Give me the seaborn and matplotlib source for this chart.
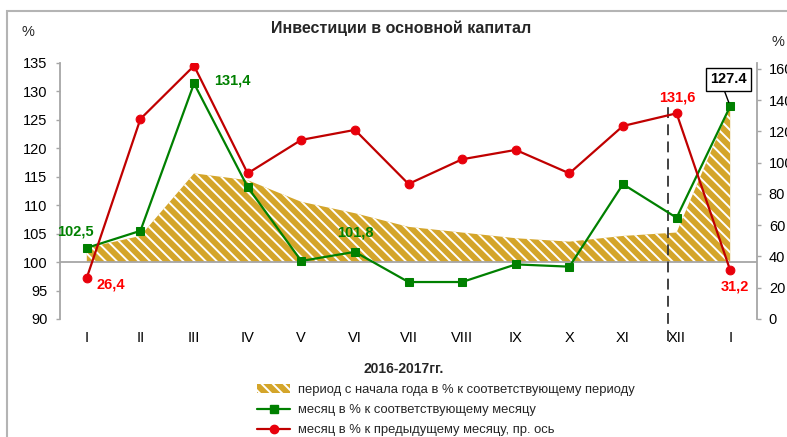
import numpy as np
import pandas as pd
import matplotlib
matplotlib.use("Agg")
import matplotlib.pyplot as plt
import seaborn as sns
from matplotlib.patches import Patch, Rectangle
from matplotlib.lines import Line2D

months = ["I", "II", "III", "IV", "V", "VI", "VII", "VIII", "IX", "X", "XI", "XII", "I"]
# period since start of year, % to same period (left axis)
period_pct = [102.5, 104.6, 115.6, 114.4, 110.6, 108.6, 106.2, 105.2, 104.2, 103.6, 104.6, 105.2, 127.4]
# month, % to same month of previous year (left axis)
month_yoy = [102.5, 105.5, 131.4, 113.2, 100.2, 101.8, 96.5, 96.5, 99.6, 99.2, 113.7, 107.8, 127.4]
# month, % to previous month (right axis)
month_mom = [26.4, 128.0, 162.0, 93.2, 114.6, 121.0, 86.4, 102.2, 108.2, 93.2, 123.5, 131.6, 31.2]

legend_labels = ["период с начала года в % к соответствующему периоду",
                 "месяц в % к соответствующему месяцу",
                 "месяц в % к предыдущему месяцу, пр. ось"]

GREEN = "#008000"
RED_LINE = "#C00000"
RED_MARK = "#E8000B"
RED_TXT = "#FF0000"
GOLD = "#D4A52A"
GRAY = "#A6A6A6"

sns.set_style("white")
plt.rcParams['font.family'] = ['Liberation Sans', 'DejaVu Sans']
plt.rcParams['hatch.color'] = 'white'
plt.rcParams['hatch.linewidth'] = 1.4

W, H = 787, 437
fig = plt.figure(figsize=(W / 100, H / 100), dpi=100)
ax = fig.add_axes([60 / W, (H - 319) / H, (757 - 60) / W, (319 - 63) / H])
ax2 = ax.twinx()

x = np.arange(len(months))
df = pd.DataFrame({"x": x, "period": period_pct, "yoy": month_yoy, "mom": month_mom})

# area: period since start of year
ax.fill_between(df["x"], 100, df["period"], facecolor=GOLD, edgecolor='white',
                hatch='\\\\\\', linewidth=0, zorder=1)
ax.axhline(100, color=GRAY, lw=1.3, zorder=2)

sns.lineplot(data=df, x="x", y="yoy", ax=ax, color=GREEN, marker='s', markersize=6.3,
             markeredgecolor=GREEN, linewidth=1.6, zorder=4)
sns.lineplot(data=df, x="x", y="mom", ax=ax2, color=RED_LINE, marker='o', markersize=6.3,
             markerfacecolor=RED_MARK, markeredgecolor=RED_MARK, linewidth=1.6, zorder=4)

ax.set_xlim(-0.5, 12.5)
ax.set_ylim(90, 135)
ax2.set_ylim(0, 163.8)
ax.set_yticks(np.arange(90, 136, 5))
ax2.set_yticks(np.arange(0, 161, 20))
ax.set_xticks(x)
ax.set_xticklabels(months)
ax.set_xlabel("")
ax.set_ylabel("")
ax2.set_ylabel("")

for a in (ax, ax2):
    for s in a.spines.values():
        s.set_visible(False)
ax.spines['left'].set_visible(True)
ax.spines['left'].set_color(GRAY)
ax.spines['left'].set_linewidth(1.3)
ax2.spines['right'].set_visible(True)
ax2.spines['right'].set_color(GRAY)
ax2.spines['right'].set_linewidth(1.3)

ax.tick_params(axis='y', left=True, length=3, width=1, color=GRAY, pad=6, labelsize=10.5, labelcolor='black')
ax.tick_params(axis='x', bottom=False, length=0, pad=8.5, labelsize=10.5, labelcolor='black')
ax2.tick_params(axis='y', right=True, length=3, width=1, color=GRAY, pad=5.5, labelsize=10.5, labelcolor='black')

# separator between years
ax.axvline(10.84, ymin=-0.085, ymax=0.83, clip_on=False, color='#333333', lw=1.3,
           ls=(0, (6, 3.5)), zorder=3)

# data labels
lab = dict(fontsize=10.5, fontweight='bold', ha='center', va='center', textcoords='offset pixels')
ax.annotate("131,4", (2, month_yoy[2]), xytext=(38, 3), color=GREEN, **lab)
ax.annotate("102,5", (0, month_yoy[0]), xytext=(-11, 16), color=GREEN, **lab)
ax.annotate("101,8", (5, month_yoy[5]), xytext=(0, 19), color=GREEN, **lab)
ax2.annotate("26,4", (0, month_mom[0]), xytext=(24, -7), color=RED_TXT, **lab)
ax2.annotate("131,6", (11, month_mom[11]), xytext=(1, 16), color=RED_TXT, **lab)
ax2.annotate("31,2", (12, month_mom[12]), xytext=(5, -16), color=RED_TXT, **lab)
ax.annotate("127.4", (12, month_yoy[12]), xytext=(-2, 27), textcoords='offset pixels',
            fontsize=10.5, fontweight='bold', ha='center', va='center', color='black',
            bbox=dict(boxstyle='square,pad=0.3', fc='white', ec='black', lw=1),
            arrowprops=dict(arrowstyle='-', color='black', lw=1, relpos=(0.35, 0),
                            shrinkA=0, shrinkB=3), zorder=6)

# texts
fig.text(401 / W, 1 - 28 / H, "Инвестиции в основной капитал", ha='center', va='center',
         fontsize=11.5, fontweight='bold')
fig.text(28 / W, 1 - 32 / H, "%", ha='center', va='center', fontsize=10.5)
fig.text(778 / W, 1 - 42 / H, "%", ha='center', va='center', fontsize=10.5)
fig.text(404 / W, 1 - 369 / H, "2016-2017гг.", ha='center', va='center',
         fontsize=10, fontweight='bold')

handles = [Patch(facecolor=GOLD, edgecolor='white', hatch='\\\\\\', linewidth=0),
           Line2D([], [], color=GREEN, lw=1.6, marker='s', markersize=6),
           Line2D([], [], color=RED_LINE, lw=1.6, marker='o', markersize=6,
                  markerfacecolor=RED_MARK, markeredgecolor=RED_MARK)]
fig.legend(handles, legend_labels, loc='upper left', bbox_to_anchor=(257 / W, 1 - 384 / H),
           frameon=False, fontsize=9.4, handlelength=2.55, handleheight=0.65,
           handletextpad=0.6, labelspacing=0.62, borderpad=0, borderaxespad=0)

# outer frame of the chart
fig.patches.append(Rectangle((7 / W, -0.2), 1.5, 0.2 + (H - 10.5) / H, transform=fig.transFigure,
                             fill=False, ec='#B4B4B4', lw=1.5))

fig.savefig("out.png", dpi=100)
